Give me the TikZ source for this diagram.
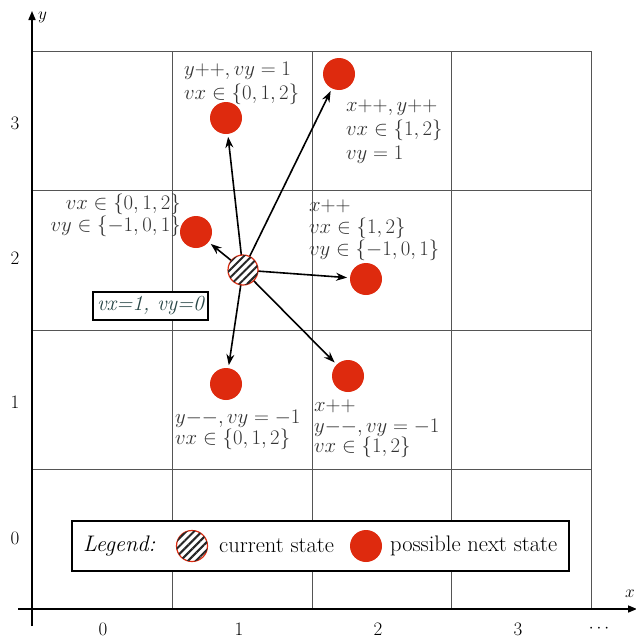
\documentclass[tikz,border=0pt]{standalone}
\usetikzlibrary{arrows.meta,patterns.meta}
\definecolor{stred}{RGB}{222,42,14}
\definecolor{gridgray}{RGB}{85,85,85}
\definecolor{boxtext}{RGB}{40,70,70}
\begin{document}
\begin{tikzpicture}[x=1pt,y=-1pt,
  gridline/.style={draw=gridgray,line width=1pt},
  axisline/.style={draw=black,line width=1.6pt,-{Triangle[length=9pt,width=7pt]}},
  nextstate/.style={circle,fill=stred,minimum size=32pt,inner sep=0pt,outer sep=0pt},
  curstate/.style={circle,draw=stred,line width=1.2pt,fill=white,minimum size=30pt,inner sep=0pt,outer sep=0pt,
     postaction={pattern={Lines[angle=45,distance=5.5pt,line width=2pt]},pattern color=black!85}},
  move/.style={line width=1.6pt,-{Stealth[length=11pt,width=8pt]},shorten >=3pt},
  lbl/.style={inner sep=0pt,font=\fontsize{21.5}{24}\selectfont,text=black!80},
  legtxt/.style={inner sep=0pt,font=\fontsize{22.5}{26}\selectfont},
  tick/.style={inner sep=0pt,font=\fontsize{19}{22}\selectfont}]
\useasboundingbox (0,0) rectangle (636,640);
% grid
\foreach \x in {172,312,451,591} \draw[gridline] (\x,51) -- (\x,609);
\foreach \y in {51,190,330,469} \draw[gridline] (32,\y) -- (591,\y);
% axes
\coordinate (xs) at (18,609); \coordinate (xe) at (637,609);
\coordinate (ys) at (32,626); \coordinate (ye) at (32,11);
\draw[axisline] (xs) -- (xe);
\draw[axisline] (ys) -- (ye);
\node[tick,anchor=south] (xl) at (630,598) {$x$};
\node[tick,anchor=west] (yl) at (38,17) {$y$};
% tick labels
\node[tick] (t0) at (103,629) {0};
\node[tick] (t1) at (239,629) {1};
\node[tick] (t2) at (378,629) {2};
\node[tick] (t3) at (518,629) {3};
\node[tick] (t4) at (599,629) {$\cdots$};
\node[tick] (r3) at (15,123) {3};
\node[tick] (r2) at (15,258) {2};
\node[tick] (r1) at (15,402) {1};
\node[tick] (r0) at (15,538) {0};
% states
\node[nextstate] (A) at (339,74) {};
\node[nextstate] (B) at (226,118) {};
\node[nextstate] (C) at (196,232) {};
\node[nextstate] (D) at (366,279) {};
\node[nextstate] (E) at (226,384) {};
\node[nextstate] (F) at (348,376) {};
\foreach \n in {A,B,C,D,E,F} \draw[move] (243,270) -- (\n);
\node[curstate] (cur) at (243,270) {};
% labels
\node[lbl,anchor=west,align=left] (LB) at (184,83) {$y{+}{+}, vy=1$\\$vx\in\{0,1,2\}$};
\node[lbl,anchor=west,align=left] (LA) at (346,132) {$x{+}{+}, y{+}{+}$\\$vx\in\{1,2\}$\\$vy=1$};
\node[lbl,anchor=east,align=right,font=\fontsize{21.5}{20.5}\selectfont] (LC) at (181,215) {$vx\in\{0,1,2\}$\\$vy\in\{-1,0,1\}$};
\node[lbl,anchor=west,align=left,font=\fontsize{21.5}{22}\selectfont] (LD) at (309,230) {$x{+}{+}$\\$vx\in\{1,2\}$\\$vy\in\{-1,0,1\}$};
\node[lbl,anchor=west,align=left,font=\fontsize{21.5}{20.5}\selectfont] (LE) at (175,430) {$y{-}{-}, vy=-1$\\$vx\in\{0,1,2\}$};
\node[lbl,anchor=west,align=left,font=\fontsize{21.5}{20.5}\selectfont] (LF) at (314,429) {$x{+}{+}$\\$y{-}{-}, vy=-1$\\$vx\in\{1,2\}$};
% velocity box
\node[draw=black,line width=1.5pt,fill=white,inner sep=2pt,minimum width=115pt,minimum height=28pt,
      font=\fontsize{21.5}{24}\selectfont\itshape,text=boxtext] (vel) at (150.5,306) {vx=1, vy=0};
% legend
\node[draw=black,line width=2.5pt,fill=white,minimum width=497pt,minimum height=50pt,inner sep=0pt] (leg) at (320.5,546) {};
\node[legtxt,anchor=west,font=\fontsize{22.5}{26}\selectfont\itshape] (legt) at (83,546) {Legend:};
\node[curstate,minimum size=31pt] (legcur) at (192,546) {};
\node[legtxt,anchor=west] (legct) at (219,546) {current state};
\node[nextstate] (legnext) at (366,546) {};
\node[legtxt,anchor=west] (legnt) at (390,546) {possible next state};
\end{tikzpicture}
\end{document}
